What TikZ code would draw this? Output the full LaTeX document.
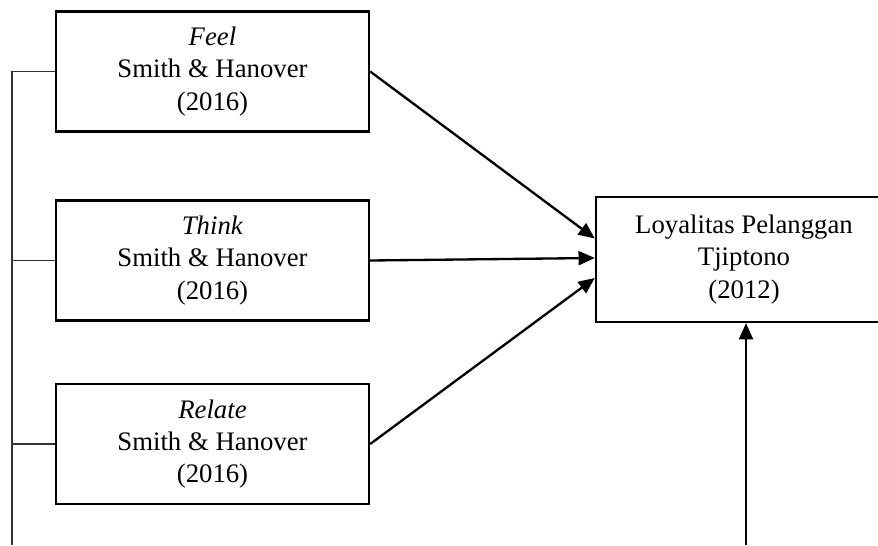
\documentclass[tikz,border=0pt]{standalone}
\usepackage{fontspec}
\setmainfont{Liberation Serif}
\usetikzlibrary{positioning,calc,arrows.meta}

\begin{document}
\begin{tikzpicture}[%Kerangka pemikiran
  x=0.43pt, y=-0.43pt,
  font=\fontsize{11.5}{13.8}\selectfont,
  varnode/.style={rectangle, draw=black, line width=1pt, align=center, minimum width=134.6pt, minimum height=51.5pt, inner sep=0pt},
  ynode/.style={rectangle, draw=black, line width=1pt, align=center, minimum width=127.3pt, minimum height=53.7pt, inner sep=0pt},
  arrowline/.style={line width=1pt, -{Triangle[length=7pt,width=6pt]}},
  busline/.style={draw=black!80, line width=0.6pt}
]
\useasboundingbox (0,0) rectangle (878,545);
\clip (0,0) rectangle (878,545);

%Nodes
\node[varnode] (feel)   at (212.5,71.5) {\textit{Feel}\\Smith \& Hanover\\(2016)};
\node[varnode] (think)  at (212.5,260.5) {\textit{Think}\\Smith \& Hanover\\(2016)};
\node[varnode] (relate) at (212.5,444) {\textit{Relate}\\Smith \& Hanover\\(2016)};
\node[ynode]   (loyal)  at (744,259.5) {Loyalitas Pelanggan\\Tjiptono\\(2012)};

\coordinate (busend) at (12,545);
\coordinate (ysrc) at (746,545);

%Left line
\draw[busline] (feel.west) -| (busend);
\draw[busline] (think.west) -- (think.west -| busend);
\draw[busline] (relate.west) -- (relate.west -| busend);

%Arrows
\draw[arrowline] (feel.east) -- ($(loyal.west)+(0,-21)$);
\draw[arrowline] (think.east) -- ($(loyal.west)+(0,-1.5)$);
\draw[arrowline] (relate.east) -- ($(loyal.west)+(0,18.5)$);
\draw[arrowline] (ysrc) -- (ysrc |- loyal.south);
\end{tikzpicture}
\end{document}
